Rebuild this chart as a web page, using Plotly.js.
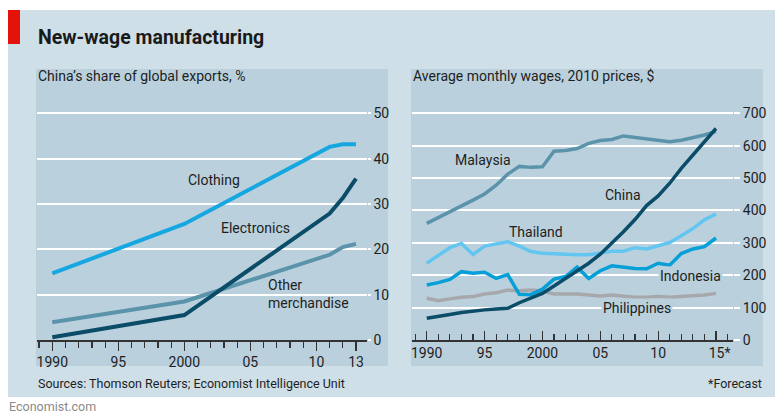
<!DOCTYPE html>
<html>
<head>
<meta charset="utf-8">
<script src="https://cdn.plot.ly/plotly-3.0.1.min.js"></script>
<style>html,body{margin:0;padding:0;background:#fff}#chart{width:783px;height:413px}</style>
</head>
<body>
<div id="chart"></div>
<script>
// ---- Left chart: China's share of global exports, %
const exportYears = [1990, 2000, 2011, 2012, 2013];
const clothing    = [14.7, 25.6, 42.6, 43.2, 43.2];
const electronics = [0.6, 5.5, 27.9, 31.3, 35.6];
const otherMerch  = [3.9, 8.5, 18.8, 20.5, 21.2];
const exportTickVals = [1990, 1995, 2000, 2005, 2010, 2013];
const exportTickText = ['1990', '95', '2000', '05', '10', '13'];

// ---- Right chart: Average monthly wages, 2010 prices, $
const wageYears = [1990,1991,1992,1993,1994,1995,1996,1997,1998,1999,2000,2001,2002,2003,2004,2005,2006,2007,2008,2009,2010,2011,2012,2013,2014,2015];
const malaysia    = [360,378,396,411,432,451,478,512,536,533,535,583,585,591,607,616,619,630,626,622,618,612,617,625,633,644];
const thailand    = [237,262,285,298,264,290,296,303,290,273,268,266,263,263,263,268,274,274,285,281,290,301,322,344,371,389];
const indonesia   = [170,177,187,211,206,209,190,202,141,140,157,188,196,225,190,214,229,225,221,220,237,231,267,281,288,315];
const philippines = [129,121,127,132,134,142,146,154,152,154,151,142,142,142,139,136,139,136,132,132,134,132,134,136,139,144];
const china       = [67,72,79,85,90,93,96,98,115,129,144,167,190,214,237,265,298,334,372,415,445,484,530,571,612,653];
const wageTickVals = [1990, 1995, 2000, 2005, 2010, 2015];
const wageTickText = ['1990', '95', '2000', '05', '10', '\u200215*'];

const W = 783, H = 413;
const fx = x => x / W;
const fy = y => 1 - y / H;

const FONT = 'Roboto, "Open Sans", "DejaVu Sans", sans-serif';
const TXT = '#1e1e1e';
const OUTER = '#cedfe8';
const PANEL = '#bad1dd';

const C_LIGHT = '#16a6e0';
const C_PALE = '#62c6f0';
const C_MID = '#069fd8';
const C_DARK = '#0b4c68';
const C_GREY = '#5b93ab';
const C_PHIL = '#a7a8ac';

function line(x, y, color, w, xa, ya, name) {
  return {type: 'scatter', mode: 'lines', x: x, y: y, name: name, xaxis: xa, yaxis: ya,
          line: {color: color, width: w, shape: 'linear'}, hoverinfo: 'skip', showlegend: false};
}

const traces = [
  line(exportYears, clothing, C_LIGHT, 4, 'x', 'y', 'Clothing'),
  line(exportYears, otherMerch, C_GREY, 4, 'x', 'y', 'Other merchandise'),
  line(exportYears, electronics, C_DARK, 4, 'x', 'y', 'Electronics'),
  line(wageYears, malaysia, C_GREY, 3.5, 'x2', 'y2', 'Malaysia'),
  line(wageYears, philippines, C_PHIL, 3.5, 'x2', 'y2', 'Philippines'),
  line(wageYears, thailand, C_PALE, 3.5, 'x2', 'y2', 'Thailand'),
  line(wageYears, indonesia, C_MID, 3.5, 'x2', 'y2', 'Indonesia'),
  line(wageYears, china, C_DARK, 3.5, 'x2', 'y2', 'China')
];

function xAxis(domain, range, tv, tt, tickDir) {
  return {
    domain: domain, range: range, tickmode: 'array', tickvals: tv, ticktext: tt,
    ticks: tickDir, ticklen: 9, tickwidth: 1.2, tickcolor: '#333',
    minor: {ticks: tickDir, tickmode: 'linear', tick0: 1990, dtick: 1, ticklen: 6, tickwidth: 1.2, tickcolor: '#333', showgrid: false},
    showline: true, linecolor: '#333', linewidth: 1.5, showgrid: false, zeroline: false,
    tickfont: {family: FONT, size: 14, color: TXT}, fixedrange: true
  };
}
function yAxis(domain, range, tv, anchor, tlen) {
  return {
    domain: domain, range: range, side: 'right', anchor: anchor, tickmode: 'array', tickvals: tv,
    showgrid: true, gridcolor: '#ffffff', gridwidth: 2, zeroline: false, showline: false,
    ticks: 'outside', ticklen: tlen, tickcolor: '#ffffff', tickwidth: 2,
    tickfont: {family: FONT, size: 14, color: TXT}, fixedrange: true
  };
}

const yDom = [fy(340), fy(108)];

function ann(text, x, y, xref, yref, opts) {
  return Object.assign({text: text, x: x, y: y, xref: xref, yref: yref, showarrow: false,
    font: {family: FONT, size: 14, color: TXT}, xanchor: 'center', yanchor: 'middle'}, opts || {});
}

const annotations = [
  ann('<b>New-wage manufacturing</b>', fx(36), fy(38), 'paper', 'paper', {xanchor: 'left', font: {family: FONT, size: 19.5, color: '#1a1a1a'}}),
  ann('China\u2019s share of global exports, %', fx(36), fy(76), 'paper', 'paper', {xanchor: 'left'}),
  ann('Average monthly wages, 2010 prices, $', fx(411), fy(76), 'paper', 'paper', {xanchor: 'left'}),
  ann('Sources: Thomson Reuters; Economist Intelligence Unit', fx(36), fy(383), 'paper', 'paper', {xanchor: 'left', font: {family: FONT, size: 12.5, color: TXT}}),
  ann('*Forecast', fx(764), fy(383), 'paper', 'paper', {xanchor: 'right', font: {family: FONT, size: 12.5, color: TXT}}),
  ann('Economist.com', fx(7), fy(406), 'paper', 'paper', {xanchor: 'left', font: {family: FONT, size: 12.5, color: '#8a8a8a'}}),
  // left chart labels
  ann('Clothing', 2002.25, 35.3, 'x', 'y'),
  ann('Electronics', 2005.4, 24.7, 'x', 'y'),
  ann('Other<br>merchandise', 2006.2, 10.2, 'x', 'y', {xanchor: 'left', align: 'left'}),
  // right chart labels
  ann('Malaysia', 1994.87, 556, 'x2', 'y2'),
  ann('Thailand', 1999.4, 333, 'x2', 'y2'),
  ann('China', 2006.92, 448, 'x2', 'y2'),
  ann('Indonesia', 2012.8, 198, 'x2', 'y2', {bgcolor: PANEL}),
  ann('Philippines', 2008.2, 99, 'x2', 'y2', {bgcolor: PANEL})
];

const shapes = [
  {type: 'rect', xref: 'paper', yref: 'paper', x0: fx(8), x1: fx(775), y0: fy(397), y1: fy(10), fillcolor: OUTER, line: {width: 0}, layer: 'below'},
  {type: 'rect', xref: 'paper', yref: 'paper', x0: fx(8), x1: fx(20), y0: fy(44), y1: fy(10), fillcolor: '#e3120b', line: {width: 0}, layer: 'below'},
  {type: 'rect', xref: 'paper', yref: 'paper', x0: fx(36), x1: fx(388), y0: fy(366), y1: fy(69), fillcolor: PANEL, line: {width: 0}, layer: 'below'},
  {type: 'rect', xref: 'paper', yref: 'paper', x0: fx(411), x1: fx(763), y0: fy(366), y1: fy(69), fillcolor: PANEL, line: {width: 0}, layer: 'below'}
];

const layout = {
  width: W, height: H, margin: {l: 0, r: 0, t: 0, b: 0},
  paper_bgcolor: '#ffffff', plot_bgcolor: 'rgba(0,0,0,0)',
  font: {family: FONT, color: TXT},
  showlegend: false,
  xaxis: xAxis([fx(36.7), fx(366.7)], [1988.82, 2013.81], exportTickVals, exportTickText, 'outside'),
  yaxis: yAxis(yDom, [0, 51.18], [0, 10, 20, 30, 40, 50], 'x', 3),
  xaxis2: Object.assign(xAxis([fx(411.7), fx(733)], [1988.70, 2016.47], wageTickVals, wageTickText, 'inside'), {anchor: 'y2'}),
  yaxis2: yAxis(yDom, [0, 716.3], [0, 100, 200, 300, 400, 500, 600, 700], 'x2', 6),
  shapes: shapes,
  annotations: annotations
};
layout.xaxis.anchor = 'y';

Plotly.newPlot('chart', traces, layout, {staticPlot: true, displayModeBar: false});
</script>
</body>
</html>
